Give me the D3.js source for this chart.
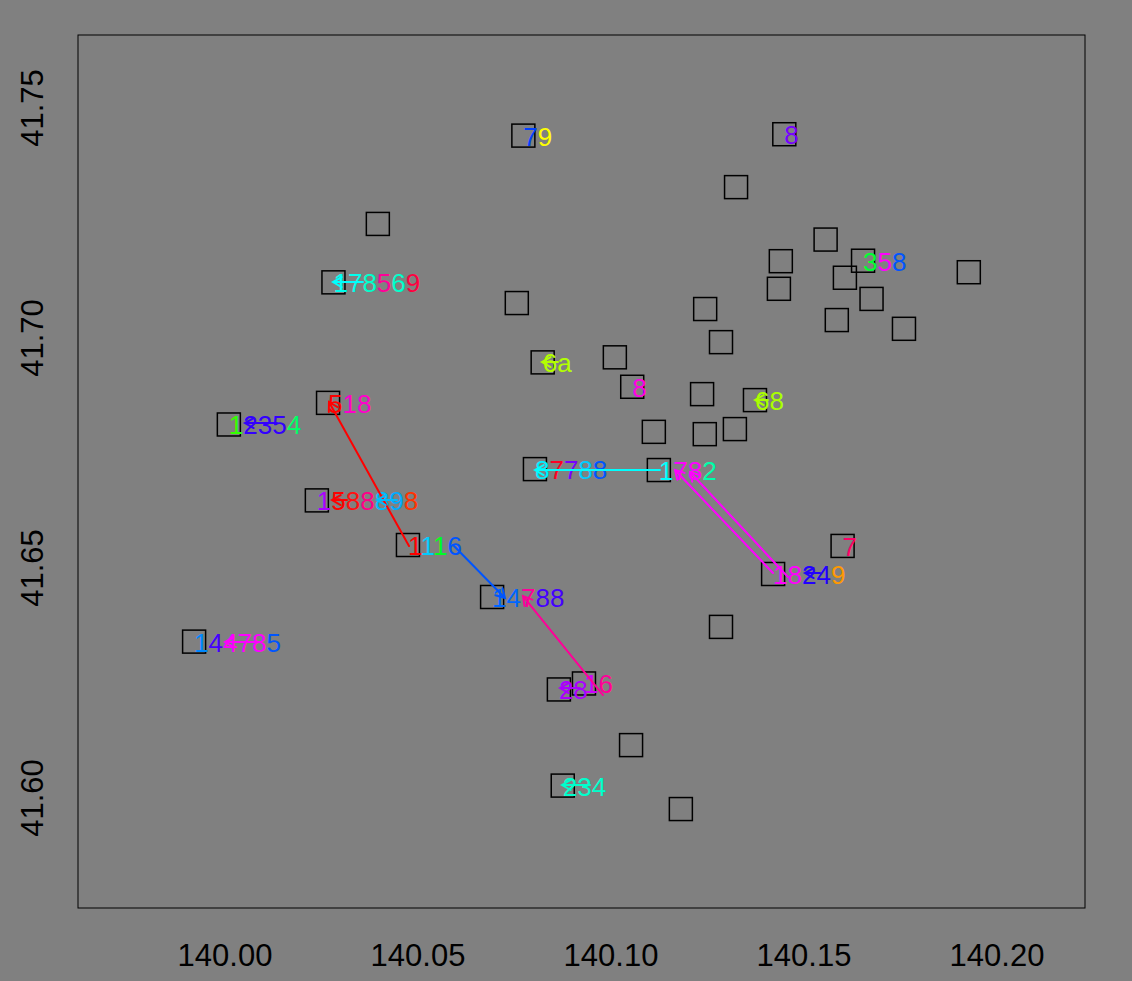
<!DOCTYPE html>
<html>
<head>
<meta charset="utf-8">
<script src="https://cdn.jsdelivr.net/npm/d3@7"></script>
<style>
  body { margin: 0; background: #808080; }
  text { font-family: "Liberation Sans", Arial, sans-serif; }
</style>
</head>
<body>
<script>
// station positions (lon, lat)
const lon = [140.0010, 140.0267, 140.0281, 140.0396, 140.0238, 140.0474, 140.0692, 139.9920,
  140.0773, 140.0756, 140.0823, 140.1010, 140.1055, 140.0803, 140.1124, 140.1111, 140.1236,
  140.1244, 140.1285, 140.1243, 140.1321, 140.1324, 140.1373, 140.1449, 140.1556, 140.1440,
  140.1435, 140.1653, 140.1606, 140.1675, 140.1585, 140.1759, 140.1927, 140.1600, 140.1420,
  140.1285, 140.0865, 140.0930, 140.1052, 140.0875, 140.1181];
const lat = [41.6812, 41.6859, 41.7121, 41.7248, 41.6647, 41.6550, 41.6437, 41.6340,
  41.7440, 41.7076, 41.6947, 41.6958, 41.6894, 41.6715, 41.6713, 41.6796, 41.6878,
  41.7063, 41.6991, 41.6791, 41.6802, 41.7328, 41.6865, 41.7443, 41.7214, 41.7167,
  41.7107, 41.7168, 41.7131, 41.7085, 41.7039, 41.7020, 41.7143, 41.6548, 41.6487,
  41.6372, 41.6236, 41.6249, 41.6115, 41.6027, 41.5976];

// labels: station index, characters, colour of each character
const labelStation = [0, 1, 2, 8, 23, 27, 10, 12, 13, 14, 22, 4, 5, 33, 34, 6, 7, 36, 37, 39];
const labelText = ["12354", "518", "178569", "79", "8", "358", "6a", "8", "87788", "1782", "68",
  "1588898", "1116", "7", "18249", "14788", "144785", "28", "16", "234"];
const labelColors = [
  ["#33FF00", "#3300FF", "#3300FF", "#3300FF", "#00FF66"],
  ["#FF0000", "#FF00CC", "#FF00CC"],
  ["#00FFEE", "#00FFEE", "#00FFCC", "#FF0099", "#00FFCC", "#FF0040"],
  ["#0040FF", "#FFFF00"],
  ["#7700FF"],
  ["#00FF33", "#FF00FF", "#0055FF"],
  ["#B3FF00", "#B3FF00"],
  ["#FF00E6"],
  ["#00EEFF", "#FF0022", "#7700FF", "#00CCFF", "#0055FF"],
  ["#00FFFF", "#FF00FF", "#FF00FF", "#00FFAA"],
  ["#AAFF00", "#AAFF00"],
  ["#AA00FF", "#FF0000", "#FF1010", "#FF0088", "#00BBFF", "#00AAFF", "#FF3300"],
  ["#FF0000", "#00CCFF", "#00FF22", "#0055FF"],
  ["#FF0066"],
  ["#FF00FF", "#FF00FF", "#2200FF", "#2200FF", "#FF9900"],
  ["#0066FF", "#0066FF", "#FF0099", "#4400FF", "#4400FF"],
  ["#0088FF", "#4400FF", "#FF00FF", "#FF00FF", "#FF00FF", "#0055FF"],
  ["#AA00FF", "#AA00FF"],
  ["#CC00FF", "#FF0099"],
  ["#00FFCC", "#00FFCC", "#00FFCC"]
];

// movement arrows: from (lon0, lat0) to (lon1, lat1), head at the end
const arrowLon0 = [140.04767, 140.05907, 140.09793, 140.11269, 140.14197, 140.14585,
  140.01347, 140.03161, 140.04456, 140.03575, 140.08627, 140.14067, 140.15415, 140.00829, 140.09197, 140.09456];
const arrowLat0 = [41.65478, 41.65500, 41.62239, 41.67130, 41.64891, 41.64804,
  41.68152, 41.66478, 41.66478, 41.71217, 41.69478, 41.68652, 41.64891, 41.63391, 41.62391, 41.60283];
const arrowLon1 = [140.02694, 140.07254, 140.07720, 140.08031, 140.11658, 140.12047,
  140.00518, 140.02772, 140.03938, 140.02798, 140.08212, 140.13731, 140.15026, 140.00000, 140.08679, 140.08731];
const arrowLat1 = [41.68609, 41.64348, 41.64391, 41.67130, 41.67130, 41.67087,
  41.68152, 41.66478, 41.66478, 41.71217, 41.69478, 41.68652, 41.64891, 41.63391, 41.62391, 41.60283];
const arrowColor = ["#FF0000", "#0055FF", "#FF0099", "#00FFFF", "#FF00FF", "#FF00FF",
  "#3300FF", "#FF0000", "#00BBFF", "#00FFFF", "#B3FF00", "#AAFF00", "#2200FF", "#FF00FF", "#AA00FF", "#00FFCC"];

const xTicks = [140.00, 140.05, 140.10, 140.15, 140.20];
const yTicks = [41.60, 41.65, 41.70, 41.75];

const width = 1132, height = 981;
const margin = {top: 35, right: 47, bottom: 73, left: 78};

const x = d3.scaleLinear()
  .domain([139.96192, 140.22280])
  .range([margin.left, width - margin.right]);
const y = d3.scaleLinear()
  .domain([41.57609, 41.76587])
  .range([height - margin.bottom, margin.top]);

const svg = d3.select("body")
  .append("svg")
    .attr("width", width)
    .attr("height", height);

svg.append("rect")
  .attr("width", width)
  .attr("height", height)
  .attr("fill", "#808080");

// stations
const sq = 23;
svg.append("g")
  .selectAll("rect")
  .data(d3.range(lon.length))
  .join("rect")
    .attr("x", i => x(lon[i]) - sq / 2)
    .attr("y", i => y(lat[i]) - sq / 2)
    .attr("width", sq)
    .attr("height", sq)
    .attr("fill", "none")
    .attr("stroke", "#000")
    .attr("stroke-width", 1.5);

// labels
const lab = svg.append("g")
  .selectAll("text")
  .data(d3.range(labelText.length))
  .join("text")
    .attr("x", i => x(lon[labelStation[i]]))
    .attr("y", i => y(lat[labelStation[i]]) + 10)
    .attr("font-size", 26);

lab.selectAll("tspan")
  .data(i => labelText[i].split("").map((c, k) => ({c, col: labelColors[i][k]})))
  .join("tspan")
    .attr("fill", d => d.col)
    .text(d => d.c);

// arrows
const headLen = 10, headAng = Math.PI / 6;
const ag = svg.append("g")
  .attr("fill", "none")
  .attr("stroke-width", 2)
  .attr("stroke-linecap", "round");

ag.selectAll("path")
  .data(d3.range(arrowLon0.length))
  .join("path")
    .attr("stroke", i => arrowColor[i])
    .attr("d", i => {
      const x0 = x(arrowLon0[i]), y0 = y(arrowLat0[i]);
      const x1 = x(arrowLon1[i]), y1 = y(arrowLat1[i]);
      const a = Math.atan2(y0 - y1, x0 - x1);
      const p = d3.path();
      p.moveTo(x0, y0);
      p.lineTo(x1, y1);
      p.moveTo(x1 + headLen * Math.cos(a + headAng), y1 + headLen * Math.sin(a + headAng));
      p.lineTo(x1, y1);
      p.lineTo(x1 + headLen * Math.cos(a - headAng), y1 + headLen * Math.sin(a - headAng));
      return p.toString();
    });

// frame
svg.append("rect")
  .attr("x", margin.left)
  .attr("y", margin.top)
  .attr("width", width - margin.left - margin.right)
  .attr("height", height - margin.top - margin.bottom)
  .attr("fill", "none")
  .attr("stroke", "#000")
  .attr("stroke-width", 1);

// axis labels
svg.append("g")
  .selectAll("text")
  .data(xTicks)
  .join("text")
    .attr("x", d => x(d))
    .attr("y", height - margin.bottom + 58)
    .attr("text-anchor", "middle")
    .attr("font-size", 31)
    .text(d => d.toFixed(2));

svg.append("g")
  .selectAll("text")
  .data(yTicks)
  .join("text")
    .attr("transform", d => `translate(${margin.left - 35},${y(d)}) rotate(-90)`)
    .attr("text-anchor", "middle")
    .attr("font-size", 31)
    .text(d => d.toFixed(2));
</script>
</body>
</html>
